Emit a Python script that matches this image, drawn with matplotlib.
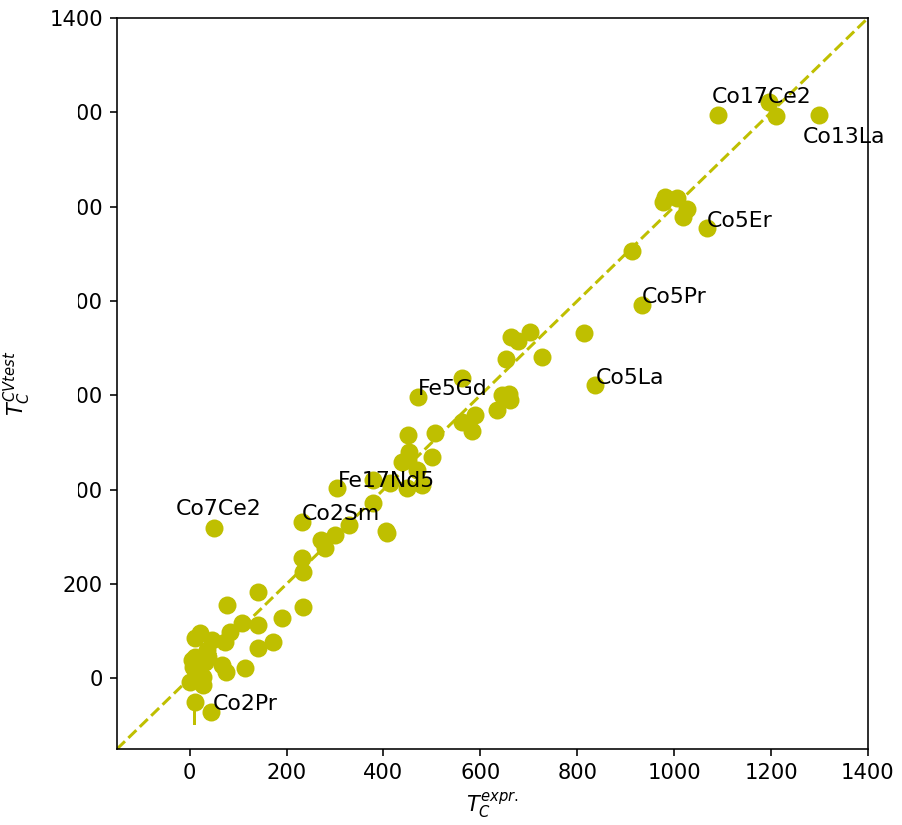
import matplotlib
matplotlib.use("Agg")
import matplotlib.pyplot as plt
from matplotlib.patches import Rectangle

# experimental vs cross-validated Curie temperatures (K)
t_expr = [
    1090, 1196, 1210, 1299,
    981, 977, 1006, 1026, 1018, 1068, 913, 933,
    663, 677, 702, 814, 653, 727, 836, 562, 644, 661, 659, 634, 589, 562, 582,
    471, 506, 450, 452, 450, 438, 500, 469, 448, 479, 413, 378, 304, 378,
    328, 299, 271, 279, 231, 407, 405, 231, 233, 50, 140, 78, 233,
    190, 140, 171, 140, 114, 107, 83, 21, 10, 47, 72, 35, 10, 4, 31, 66,
    76, 10, 27, 0, 27, 10, 45, 6, 37, 21,
]
t_cv = [
    1194, 1222, 1192, 1194,
    1020, 1010, 1018, 995, 978, 954, 906, 791,
    723, 715, 734, 732, 677, 681, 621, 636, 600, 590, 602, 568, 558, 543, 524,
    596, 520, 515, 479, 462, 458, 469, 441, 403, 409, 413, 420, 403, 371,
    324, 303, 293, 276, 331, 308, 312, 255, 225, 318, 182, 155, 151,
    127, 112, 76, 64, 21, 117, 98, 95, 85, 81, 76, 59, 45, 38, 34, 28,
    13, 17, 2, -8, -15, -51, -72, 23, 45, 6,
]

# short vertical bar under the Co2Pr cluster
bar_x = [8, 8]
bar_y = [-45, -95]

names = ["Co17Ce2", "Co13La", "Co5Er", "Co5Pr", "Co5La",
         "Fe5Gd", "Fe17Nd5", "Co2Sm", "Co7Ce2", "Co2Pr"]
name_x = [1078, 1266, 1068, 933, 838, 471, 306, 231, -29, 47]
name_y = [1232, 1147, 969, 808, 636, 613, 418, 348, 358, -55]

lims = [-150, 1400]
ticks = [0, 200, 400, 600, 800, 1000, 1200, 1400]

plt.rcParams["font.size"] = 10.5

fig = plt.figure(figsize=(902 / 144, 825 / 144), dpi=144)
ax = fig.add_axes([0.1297, 0.0921, 0.8326, 0.8861])

ax.plot(lims, lims, "--", color="y", lw=1.5, zorder=1)
ax.plot(bar_x, bar_y, "-", color="y", lw=1.5, zorder=2)
ax.scatter(t_expr, t_cv, s=64, color="y", zorder=3)

for n, x, y in zip(names, name_x, name_y):
    ax.text(x, y, n, ha="left", va="center", fontsize=11, zorder=4)

ax.set_xlim(lims)
ax.set_ylim(lims)
ax.set_xticks(ticks)
ax.set_yticks(ticks)
ax.set_xlabel("$T_C^{expr.}$")
ax.set_ylabel("$T_C^{CVtest}$")
ax.yaxis.set_label_coords(-0.112, 0.5)

# white strip over the left margin
fig.patches.append(Rectangle((28 / 902, 1 - 540 / 825), 50 / 902, 490 / 825,
                             transform=fig.transFigure, facecolor="white",
                             edgecolor="none", zorder=10))

fig.savefig("out.png", dpi=144)
